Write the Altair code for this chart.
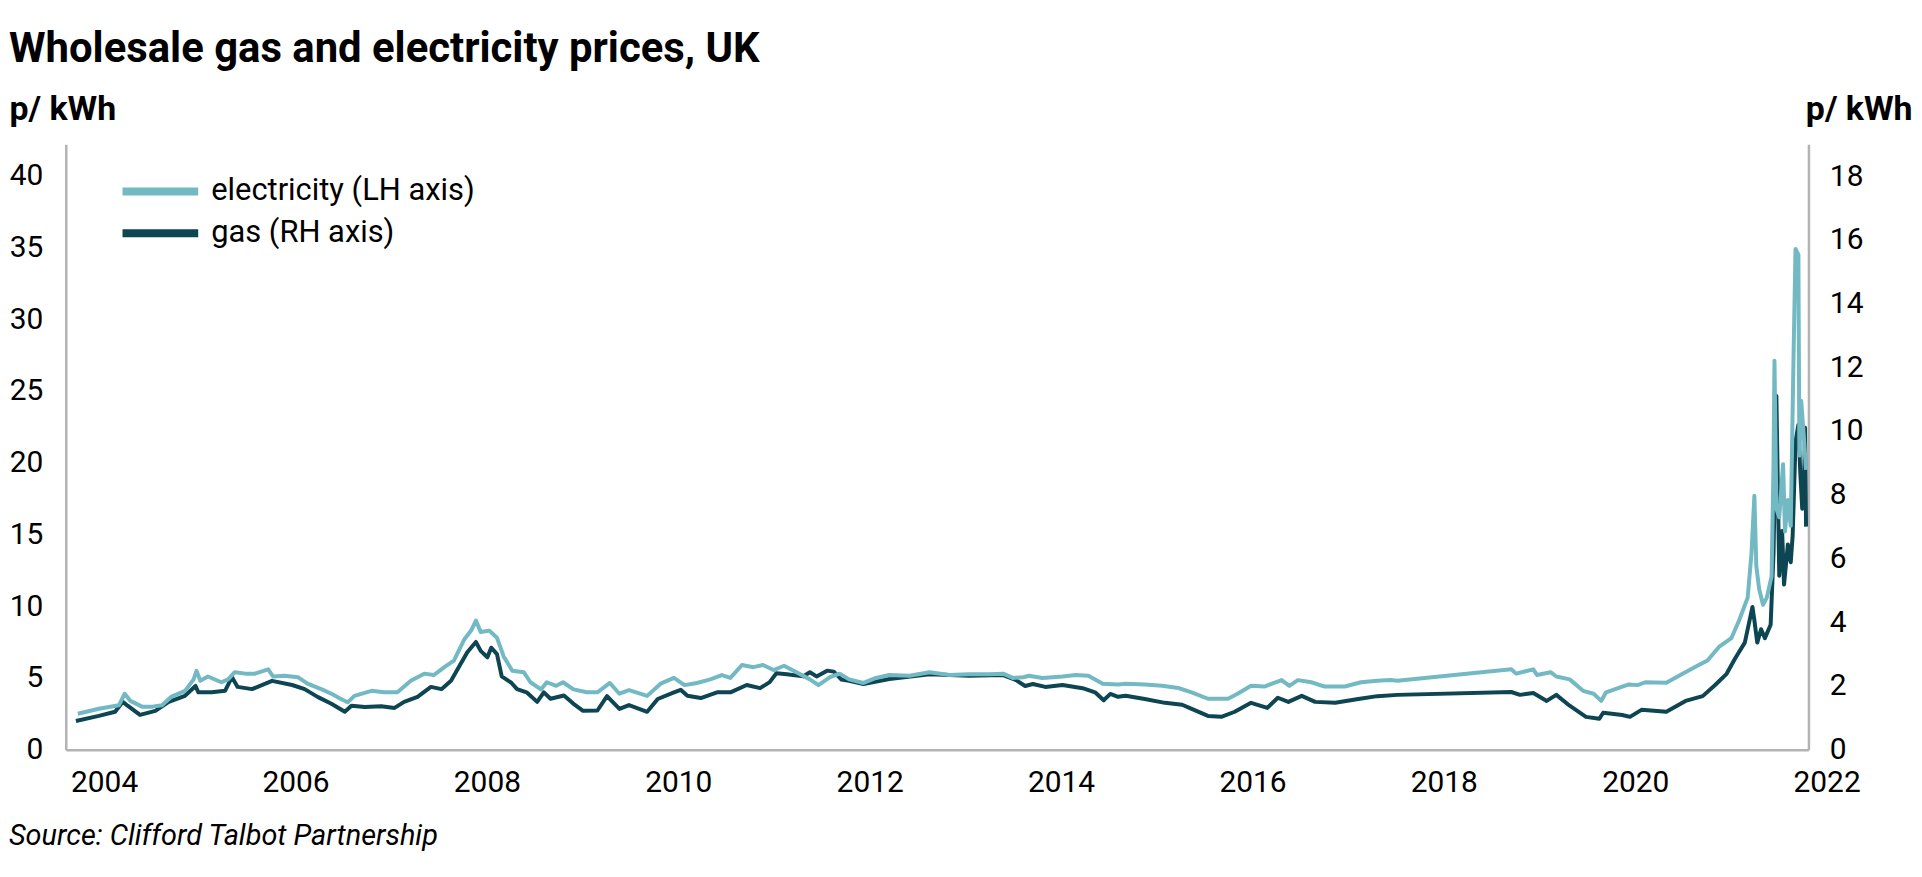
import altair as alt
import pandas as pd

# ---------------- data ----------------
series_names = ["electricity (LH axis)", "gas (RH axis)"]
series_colors = ["#73b9c4", "#0e4552"]

year_ticks = [2004, 2006, 2008, 2010, 2012, 2014, 2016, 2018, 2020, 2022]
left_ticks = [0, 5, 10, 15, 20, 25, 30, 35, 40]
right_ticks = [0, 2, 4, 6, 8, 10, 12, 14, 16, 18]

elec_year = [
    2003.72, 2003.94, 2004.15, 2004.21, 2004.27, 2004.39, 2004.50, 2004.60, 2004.70, 2004.84,
    2004.93, 2004.96, 2005.00, 2005.08, 2005.22, 2005.29, 2005.36, 2005.47, 2005.57, 2005.71,
    2005.76, 2005.88, 2006.02, 2006.12, 2006.27, 2006.37, 2006.48, 2006.54, 2006.61, 2006.79,
    2006.92, 2007.06, 2007.20, 2007.34, 2007.44, 2007.55, 2007.65, 2007.76, 2007.83, 2007.88,
    2007.93, 2008.02, 2008.10, 2008.17, 2008.26, 2008.38, 2008.45, 2008.56, 2008.62, 2008.72,
    2008.79, 2008.90, 2009.04, 2009.15, 2009.28, 2009.38, 2009.48, 2009.67, 2009.81, 2009.95,
    2010.06, 2010.19, 2010.33, 2010.45, 2010.54, 2010.66, 2010.78, 2010.88, 2010.99, 2011.10,
    2011.23, 2011.37, 2011.46, 2011.58, 2011.68, 2011.78, 2011.93, 2012.06, 2012.20, 2012.41,
    2012.62, 2012.83, 2013.03, 2013.24, 2013.39, 2013.49, 2013.60, 2013.66, 2013.80, 2014.01,
    2014.15, 2014.28, 2014.43, 2014.59, 2014.67, 2014.87, 2015.05, 2015.22, 2015.36, 2015.53,
    2015.74, 2015.84, 2015.98, 2016.12, 2016.30, 2016.38, 2016.47, 2016.61, 2016.75, 2016.96,
    2017.13, 2017.30, 2017.44, 2017.51, 2018.70, 2018.75, 2018.93, 2018.97, 2019.11, 2019.17,
    2019.31, 2019.45, 2019.56, 2019.64, 2019.69, 2019.86, 2019.93, 2020.02, 2020.10, 2020.32,
    2020.49, 2020.62, 2020.75, 2020.87, 2021.00, 2021.08, 2021.17, 2021.21, 2021.24, 2021.26,
    2021.29, 2021.33, 2021.37, 2021.42, 2021.44, 2021.45, 2021.47, 2021.50, 2021.54, 2021.56,
    2021.59, 2021.62, 2021.65, 2021.67, 2021.70, 2021.71, 2021.73, 2021.76, 2021.78,
]
elec_price = [
    2.5, 2.85, 3.1, 3.9, 3.4, 3.0, 3.0, 3.1, 3.7, 4.1,
    4.9, 5.5, 4.8, 5.1, 4.7, 4.9, 5.4, 5.3, 5.3, 5.6,
    5.1, 5.15, 5.05, 4.6, 4.2, 3.9, 3.5, 3.3, 3.75, 4.1,
    4.0, 4.0, 4.8, 5.3, 5.2, 5.75, 6.2, 7.7, 8.3, 9.0,
    8.2, 8.3, 7.8, 6.5, 5.5, 5.4, 4.7, 4.2, 4.7, 4.45,
    4.7, 4.2, 4.0, 4.0, 4.65, 3.9, 4.15, 3.75, 4.6, 5.0,
    4.5, 4.65, 4.9, 5.2, 5.0, 5.9, 5.75, 5.9, 5.55, 5.85,
    5.4, 4.9, 4.5, 5.05, 5.3, 4.9, 4.65, 5.0, 5.2, 5.15,
    5.4, 5.2, 5.25, 5.25, 5.3, 5.0, 5.05, 5.15, 5.0, 5.1,
    5.2, 5.15, 4.6, 4.55, 4.6, 4.55, 4.45, 4.3, 4.0, 3.55,
    3.55, 3.9, 4.45, 4.4, 4.85, 4.45, 4.85, 4.7, 4.4, 4.4,
    4.7, 4.8, 4.85, 4.8, 5.6, 5.3, 5.6, 5.2, 5.4, 5.1,
    4.9, 4.1, 3.9, 3.4, 4.0, 4.4, 4.55, 4.5, 4.7, 4.67,
    5.29, 5.76, 6.22, 7.16, 7.78, 9.0, 10.6, 13.7, 17.7, 12.8,
    11.2, 10.1, 10.6, 12.1, 19.9, 27.1, 16.8, 16.2, 19.9, 15.2,
    17.4, 15.6, 27.7, 34.9, 34.5, 20.5, 24.3, 21.5, 19.5,
]

gas_year = [
    2003.70, 2003.94, 2004.11, 2004.19, 2004.24, 2004.37, 2004.53, 2004.67, 2004.84, 2004.95,
    2004.98, 2005.12, 2005.26, 2005.33, 2005.39, 2005.54, 2005.75, 2005.96, 2006.09, 2006.23,
    2006.37, 2006.51, 2006.58, 2006.72, 2006.89, 2007.03, 2007.13, 2007.27, 2007.41, 2007.52,
    2007.62, 2007.69, 2007.79, 2007.88, 2007.93, 2008.00, 2008.04, 2008.10, 2008.15, 2008.25,
    2008.31, 2008.41, 2008.52, 2008.59, 2008.66, 2008.80, 2008.90, 2009.00, 2009.15, 2009.25,
    2009.38, 2009.48, 2009.67, 2009.78, 2009.95, 2010.02, 2010.09, 2010.23, 2010.40, 2010.54,
    2010.71, 2010.85, 2010.95, 2011.02, 2011.13, 2011.30, 2011.37, 2011.44, 2011.55, 2011.62,
    2011.70, 2011.78, 2011.93, 2012.20, 2012.62, 2013.03, 2013.39, 2013.52, 2013.62, 2013.70,
    2013.83, 2014.01, 2014.22, 2014.35, 2014.44, 2014.51, 2014.59, 2014.67, 2014.87, 2015.08,
    2015.26, 2015.36, 2015.53, 2015.67, 2015.81, 2015.98, 2016.15, 2016.26, 2016.37, 2016.51,
    2016.65, 2016.86, 2017.10, 2017.30, 2017.51, 2018.70, 2018.79, 2018.93, 2019.07, 2019.17,
    2019.31, 2019.48, 2019.62, 2019.66, 2019.86, 2019.94, 2020.06, 2020.32, 2020.53, 2020.70,
    2020.83, 2020.95, 2021.04, 2021.14, 2021.22, 2021.24, 2021.27, 2021.31, 2021.35, 2021.41,
    2021.44, 2021.47, 2021.50, 2021.53, 2021.55, 2021.59, 2021.62, 2021.64, 2021.67, 2021.70,
    2021.72, 2021.74, 2021.76, 2021.77, 2021.78,
]
gas_price = [
    0.9, 1.06, 1.19, 1.5, 1.38, 1.09, 1.22, 1.5, 1.69, 2.0,
    1.8, 1.8, 1.85, 2.28, 1.97, 1.9, 2.16, 2.03, 1.9, 1.65,
    1.44, 1.19, 1.38, 1.34, 1.36, 1.31, 1.5, 1.66, 1.97, 1.9,
    2.16, 2.53, 3.06, 3.38, 3.1, 2.9, 3.2, 3.0, 2.3, 2.1,
    1.9, 1.8, 1.5, 1.8, 1.6, 1.7, 1.44, 1.22, 1.23, 1.68,
    1.28, 1.4, 1.19, 1.59, 1.8, 1.88, 1.69, 1.62, 1.8, 1.8,
    2.03, 1.93, 2.12, 2.4, 2.37, 2.3, 2.43, 2.3, 2.48, 2.45,
    2.2, 2.16, 2.06, 2.22, 2.37, 2.32, 2.34, 2.19, 2.0, 2.06,
    1.97, 2.03, 1.93, 1.8, 1.55, 1.75, 1.66, 1.69, 1.59, 1.47,
    1.41, 1.28, 1.06, 1.03, 1.19, 1.47, 1.31, 1.63, 1.5, 1.69,
    1.5, 1.47, 1.59, 1.68, 1.72, 1.81, 1.72, 1.78, 1.53, 1.72,
    1.38, 1.03, 0.97, 1.16, 1.09, 1.03, 1.25, 1.19, 1.54, 1.68,
    2.03, 2.38, 2.87, 3.36, 4.48, 4.06, 3.36, 3.78, 3.5, 3.92,
    6.16, 11.1, 5.46, 6.86, 5.18, 6.44, 5.88, 6.72, 9.66, 10.2,
    8.68, 7.56, 8.54, 10.1, 7.0,
]

title_text = "Wholesale gas and electricity prices, UK"
unit_text = "p/ kWh"
source_text = "Source: Clifford Talbot Partnership"

# ---------------- chart ----------------
FONT = "Roboto"
AXIS_GREY = "#b3b3b3"
X_DOMAIN = [2003.594, 2021.805]

elec_df = pd.DataFrame({"year": elec_year, "price": elec_price, "series": series_names[0]})
gas_df = pd.DataFrame({"year": gas_year, "price": gas_price, "series": series_names[1]})
years_df = pd.DataFrame({"year": year_ticks})
source_df = pd.DataFrame({"label": [source_text]})

x_scale = alt.Scale(domain=X_DOMAIN, nice=False, zero=False)

x_enc = alt.X(
    "year:Q",
    scale=x_scale,
    axis=alt.Axis(
        values=year_ticks, title=None, grid=False, ticks=False, tickSize=0, labels=False,
        domainColor=AXIS_GREY, domainWidth=2.5,
    ),
)

color_enc = alt.Color(
    "series:N",
    scale=alt.Scale(domain=series_names, range=series_colors),
    legend=alt.Legend(
        title=None, orient="none", legendX=79.5, legendY=32, direction="vertical",
        symbolType="M-4,0L4,0", symbolSize=361, symbolStrokeWidth=8, symbolOpacity=1,
        labelFont=FONT, labelFontSize=31, labelColor="black", labelOffset=35.5,
        labelLimit=600, rowPadding=9, padding=0,
    ),
)

gas_layer = alt.Chart(gas_df).mark_line(strokeWidth=4, strokeJoin="round").encode(
    x=x_enc,
    y=alt.Y(
        "price:Q",
        scale=alt.Scale(domain=[0, 19], nice=False),
        axis=alt.Axis(
            orient="right", values=right_ticks, title=unit_text, titleAngle=0,
            titleX=104, titleY=-25, titleAlign="right", titleBaseline="alphabetic",
            titleFont=FONT, titleFontSize=34, titleFontWeight="bold", titleColor="black",
            grid=False, ticks=False, tickSize=0, labelPadding=21, labelFont=FONT,
            labelFontSize=30, labelColor="black", domainColor=AXIS_GREY, domainWidth=2.5,
        ),
    ),
    color=color_enc,
)

elec_layer = alt.Chart(elec_df).mark_line(strokeWidth=4, strokeJoin="round").encode(
    x=x_enc,
    y=alt.Y(
        "price:Q",
        scale=alt.Scale(domain=[0, 42.2], nice=False),
        axis=alt.Axis(
            orient="left", values=left_ticks, title=unit_text, titleAngle=0,
            titleX=-57, titleY=-25, titleAlign="left", titleBaseline="alphabetic",
            titleFont=FONT, titleFontSize=34, titleFontWeight="bold", titleColor="black",
            grid=False, ticks=False, tickSize=0, labelPadding=23, labelFont=FONT,
            labelFontSize=30, labelColor="black", domainColor=AXIS_GREY, domainWidth=2.5,
        ),
    ),
    color=color_enc,
)

# year labels drawn through the shared x scale (the last one, 2022, lies past the domain end)
year_layer = alt.Chart(years_df).mark_text(
    align="center", baseline="top", font=FONT, fontSize=30, color="black",
).encode(
    x=alt.X("year:Q", scale=x_scale),
    y=alt.value(626),
    text=alt.Text("year:Q", format="d"),
)

source_layer = alt.Chart(source_df).mark_text(
    align="left", baseline="alphabetic", font=FONT, fontSize=29, fontStyle="italic",
    color="black",
).encode(x=alt.value(-57), y=alt.value(704), text="label:N")

chart = (
    alt.layer(gas_layer, elec_layer, year_layer, source_layer)
    .resolve_scale(y="independent")
    .properties(
        width=1750,
        height=608,
        autosize=alt.AutoSizeParams(type="none"),
        padding={"left": 58, "top": 135, "right": 106, "bottom": 110},
        background="white",
        title=alt.TitleParams(
            title_text, anchor="start", frame="group", font=FONT, fontSize=42,
            fontWeight="bold", color="black", baseline="alphabetic", offset=26,
            dx=-57, dy=37,
        ),
    )
    .configure_view(stroke=None)
)

chart.save("out.html", embed_options={"renderer": "svg", "actions": False})
